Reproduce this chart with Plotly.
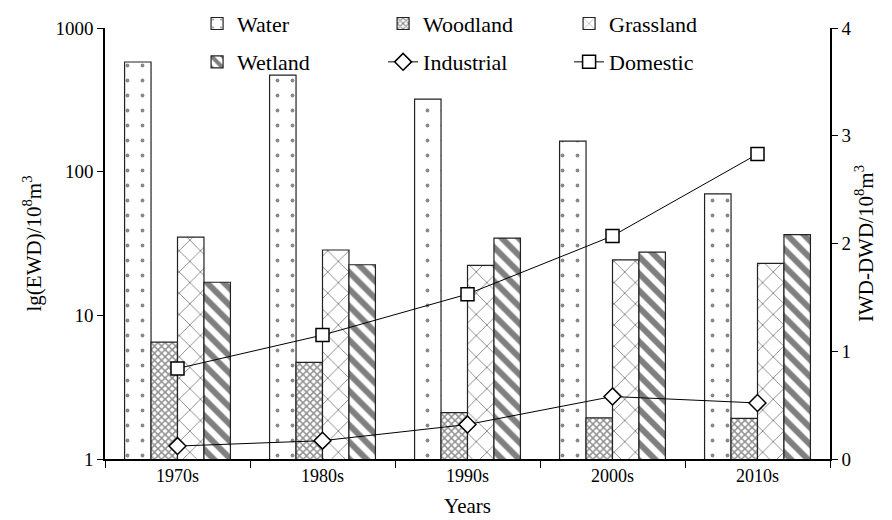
import plotly.graph_objects as go

years = ["1970s", "1980s", "1990s", "2000s", "2010s"]
water = [580, 470, 320, 163, 70]
woodland = [6.5, 4.7, 2.1, 1.93, 1.92]
grassland = [35, 28.5, 22.3, 24.3, 23]
wetland = [17, 22.5, 34.5, 27.5, 36.5]
industrial = [0.12, 0.17, 0.32, 0.58, 0.52]
domestic = [0.84, 1.15, 1.53, 2.07, 2.83]

FONT = "Times New Roman"
fig = go.Figure()

def bar(name, vals, pat, legend):
    fig.add_trace(go.Bar(
        x=years, y=vals, name=name, legend=legend,
        marker=dict(color="white", line=dict(color="#222", width=1.2), pattern=pat),
    ))

bar("Water", water, dict(shape=".", size=15, solidity=0.05, fgcolor="#111", bgcolor="white"), "legend")
bar("Woodland", woodland, dict(shape="x", size=5, solidity=0.5, fgcolor="#222", bgcolor="white"), "legend")
bar("Grassland", grassland, dict(shape="x", size=15, solidity=0.12, fgcolor="#111", bgcolor="white"), "legend")
bar("Wetland", wetland, dict(shape="\\", size=12, solidity=0.5, fgcolor="#000", bgcolor="white"), "legend2")

fig.add_trace(go.Scatter(
    x=years, y=industrial, name="Industrial", yaxis="y2", legend="legend2",
    mode="lines+markers", line=dict(color="black", width=1),
    marker=dict(symbol="diamond", size=13, color="white", line=dict(color="black", width=1.5)),
))
fig.add_trace(go.Scatter(
    x=years, y=domestic, name="Domestic", yaxis="y2", legend="legend2",
    mode="lines+markers", line=dict(color="black", width=1),
    marker=dict(symbol="square", size=13, color="white", line=dict(color="black", width=1.5)),
))

leg_common = dict(orientation="h", xanchor="left", yanchor="middle",
                  font=dict(family=FONT, size=22, color="black"),
                  entrywidth=141, entrywidthmode="pixels", bgcolor="rgba(0,0,0,0)",
                  traceorder="normal")

fig.update_layout(
    width=892, height=520,
    margin=dict(l=105, r=62, t=28, b=61, autoexpand=False),
    paper_bgcolor="white", plot_bgcolor="white",
    font=dict(family=FONT, size=20, color="black"),
    barmode="group", bargap=0.27, bargroupgap=0,
    legend=dict(x=0.127, y=1.01, **leg_common),
    legend2=dict(x=0.127, y=0.921, **leg_common),
    xaxis=dict(
        title=dict(text="Years", font=dict(size=21), standoff=13),
        showline=True, linecolor="black", linewidth=1.5,
        ticks="outside", tickson="boundaries", ticklen=7, tickcolor="black",
        tickfont=dict(size=18), showgrid=False, automargin=False,
    ),
    yaxis=dict(
        type="log", range=[0, 3], dtick=1,
        title=dict(text="lg(EWD)/10<sup>8</sup>m<sup>3</sup>", font=dict(size=21), standoff=8),
        showline=True, linecolor="black", linewidth=1.5,
        ticks="outside", ticklen=6, tickcolor="black", showgrid=False,
        tickfont=dict(size=19), zeroline=False, automargin=False,
    ),
    yaxis2=dict(
        overlaying="y", side="right", range=[0, 4], dtick=1,
        title=dict(text="IWD-DWD/10<sup>8</sup>m<sup>3</sup>", font=dict(size=21), standoff=8),
        showline=True, linecolor="black", linewidth=1.5,
        ticks="outside", ticklen=6, tickcolor="black", showgrid=False,
        tickfont=dict(size=19), zeroline=False, automargin=False,
    ),
)

fig.write_html("out.html")
